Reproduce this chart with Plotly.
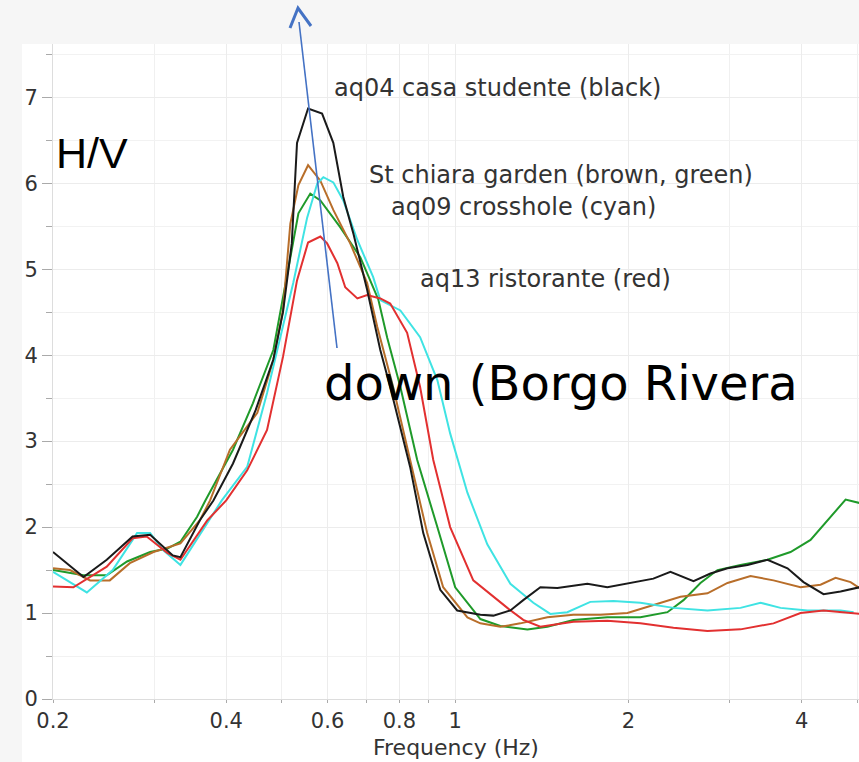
import plotly.graph_objects as go

# ---- data (frequency in Hz, H/V ratio) ----
black_f = [0.200, 0.226, 0.248, 0.275, 0.295, 0.311, 0.323, 0.333, 0.360, 0.380, 0.411, 0.450, 0.483, 0.502,
           0.520, 0.531, 0.555, 0.587, 0.614, 0.639, 0.665, 0.703, 0.741, 0.771, 0.835, 0.880, 0.942, 1.008,
           1.106, 1.165, 1.247, 1.313, 1.406, 1.505, 1.697, 1.838, 2.040, 2.210, 2.366, 2.595, 2.777, 2.973,
           3.221, 3.489, 3.780, 4.030, 4.366, 4.674, 5.044]
black_v = [1.71, 1.42, 1.62, 1.89, 1.91, 1.77, 1.67, 1.65, 2.08, 2.31, 2.74, 3.36, 3.95, 4.50,
           5.30, 6.47, 6.87, 6.81, 6.47, 5.84, 5.42, 4.76, 4.06, 3.63, 2.70, 1.93, 1.27, 1.03,
           0.98, 0.97, 1.03, 1.15, 1.30, 1.29, 1.34, 1.30, 1.36, 1.40, 1.48, 1.37, 1.46, 1.52,
           1.56, 1.62, 1.52, 1.36, 1.22, 1.25, 1.30]

brown_f = [0.200, 0.214, 0.232, 0.251, 0.272, 0.299, 0.333, 0.360, 0.375, 0.406, 0.453, 0.483, 0.502, 0.517,
           0.534, 0.555, 0.583, 0.614, 0.657, 0.703, 0.732, 0.780, 0.835, 0.894, 0.953, 1.050, 1.106, 1.198,
           1.298, 1.446, 1.605, 1.788, 1.992, 2.210, 2.463, 2.744, 2.973, 3.260, 3.574, 3.982, 4.314, 4.582,
           4.865, 5.044]
brown_v = [1.52, 1.50, 1.38, 1.38, 1.58, 1.71, 1.81, 2.08, 2.31, 2.90, 3.33, 3.94, 4.52, 5.53,
           5.98, 6.21, 6.03, 5.69, 5.30, 4.84, 4.33, 3.63, 2.78, 1.93, 1.30, 0.95, 0.88, 0.84,
           0.88, 0.95, 0.98, 0.98, 1.00, 1.09, 1.19, 1.23, 1.35, 1.43, 1.38, 1.30, 1.33, 1.41,
           1.36, 1.29]

green_f = [0.200, 0.217, 0.226, 0.248, 0.269, 0.295, 0.316, 0.333, 0.356, 0.368, 0.411, 0.445, 0.483, 0.511,
           0.534, 0.560, 0.583, 0.631, 0.684, 0.735, 0.762, 0.803, 0.859, 0.931, 1.000, 1.106, 1.198, 1.335,
           1.446, 1.605, 1.838, 2.098, 2.338, 2.493, 2.668, 2.856, 3.132, 3.489, 3.826, 4.145, 4.437, 4.769,
           5.044]
green_v = [1.50, 1.46, 1.44, 1.44, 1.60, 1.71, 1.75, 1.83, 2.12, 2.31, 2.90, 3.44, 4.06, 4.95,
           5.65, 5.88, 5.80, 5.49, 5.14, 4.65, 4.20, 3.63, 2.78, 2.00, 1.30, 0.93, 0.85, 0.81,
           0.84, 0.92, 0.95, 0.95, 1.01, 1.15, 1.35, 1.50, 1.56, 1.62, 1.71, 1.85, 2.08, 2.32,
           2.28]

cyan_f = [0.200, 0.229, 0.254, 0.280, 0.295, 0.311, 0.333, 0.371, 0.393, 0.435, 0.471, 0.523, 0.553, 0.576,
          0.590, 0.614, 0.639, 0.676, 0.720, 0.741, 0.803, 0.869, 0.931, 0.980, 1.050, 1.137, 1.247, 1.367,
          1.463, 1.566, 1.717, 1.883, 2.098, 2.395, 2.744, 3.132, 3.393, 3.676, 4.095, 4.674, 4.924]
cyan_v = [1.48, 1.24, 1.50, 1.93, 1.93, 1.73, 1.56, 2.04, 2.31, 2.70, 3.56, 4.84, 5.60, 6.00,
          6.07, 6.01, 5.80, 5.34, 4.91, 4.64, 4.52, 4.21, 3.71, 3.09, 2.40, 1.80, 1.34, 1.12,
          0.99, 1.01, 1.13, 1.14, 1.12, 1.06, 1.03, 1.06, 1.12, 1.06, 1.03, 1.03, 1.01]

red_f = [0.200, 0.217, 0.248, 0.275, 0.291, 0.316, 0.333, 0.371, 0.400, 0.435, 0.471, 0.502, 0.531, 0.555,
         0.583, 0.599, 0.624, 0.644, 0.676, 0.703, 0.741, 0.771, 0.825, 0.869, 0.916, 0.980, 1.075, 1.184,
         1.232, 1.313, 1.406, 1.605, 1.838, 2.098, 2.395, 2.744, 3.132, 3.574, 3.982, 4.366, 4.807, 5.044]
red_v = [1.31, 1.30, 1.54, 1.87, 1.89, 1.70, 1.62, 2.08, 2.31, 2.66, 3.13, 3.98, 4.87, 5.31,
         5.38, 5.30, 5.07, 4.79, 4.66, 4.70, 4.66, 4.60, 4.26, 3.63, 2.78, 2.00, 1.38, 1.15,
         1.06, 0.92, 0.84, 0.90, 0.91, 0.88, 0.83, 0.79, 0.81, 0.88, 1.00, 1.03, 1.00, 0.99]

x_tickvals = [0.2, 0.4, 0.6, 0.8, 1, 2, 4]
x_ticktext = ["0.2", "0.4", "0.6", "0.8", "1", "2", "4"]
x_minorvals = [0.3, 0.5, 0.7, 0.9, 3, 5]
y_tickvals = [0, 1, 2, 3, 4, 5, 6, 7]

labels = ["aq04 casa studente (black)", "St chiara garden (brown, green)",
          "aq09 crosshole (cyan)", "aq13 ristorante (red)"]

series = [
    (green_f, green_v, "#1f9a2a"),
    (brown_f, brown_v, "#b86e2a"),
    (cyan_f, cyan_v, "#3fe3e3"),
    (red_f, red_v, "#e23030"),
    (black_f, black_v, "#1a1a1a"),
]

fig = go.Figure()
for f, v, c in series:
    fig.add_trace(go.Scatter(x=f, y=v, mode="lines", line=dict(color=c, width=2),
                             showlegend=False, hoverinfo="skip"))

W, H = 859, 762
L, R, T, B = 53, 0, 44, 63
pw, ph = W - L - R, H - T - B


def px(x):
    return (x - L) / pw


def py(y):
    return (H - B - y) / ph


txt_font = dict(family="DejaVu Sans", size=24, color="#333333")
anns = [
    dict(text=labels[0], x=px(497), y=py(88)),
    dict(text=labels[1], x=px(561), y=py(175)),
    dict(text=labels[2], x=px(523), y=py(207)),
    dict(text=labels[3], x=px(545), y=py(279)),
]
annotations = []
for a in anns:
    annotations.append(dict(text=a["text"], x=a["x"], y=a["y"], xref="paper", yref="paper",
                            xanchor="center", yanchor="middle", showarrow=False, font=txt_font))
annotations.append(dict(text="Frequency (Hz)", x=0.5, y=py(747), xref="paper", yref="paper",
                        xanchor="center", yanchor="middle", showarrow=False,
                        font=dict(family="DejaVu Sans", size=22, color="#333333")))
annotations.append(dict(text="H/V", x=px(92), y=py(153), xref="paper", yref="paper",
                        xanchor="center", yanchor="middle", showarrow=False,
                        font=dict(family="Liberation Sans", size=43, color="#000000")))
annotations.append(dict(text="down (Borgo Rivera", x=px(561), y=py(383), xref="paper", yref="paper",
                        xanchor="center", yanchor="middle", showarrow=False,
                        font=dict(family="DejaVu Sans", size=48, color="#000000")))

shapes = [
    dict(type="rect", xref="paper", yref="paper", x0=px(22), x1=1.0, y0=py(H), y1=1.0,
         fillcolor="#ffffff", line=dict(width=0), layer="below"),
    dict(type="line", xref="paper", yref="paper", x0=px(337), y0=py(348), x1=px(299), y1=py(22),
         line=dict(color="#4472c4", width=1.6)),
    dict(type="path", xref="paper", yref="paper",
         path=f"M {px(290)} {py(28)} L {px(298)} {py(8)} L {px(311)} {py(26)}",
         line=dict(color="#4472c4", width=3)),
]

fig.update_layout(
    width=W, height=H,
    margin=dict(l=L, r=R, t=T, b=B, pad=0),
    paper_bgcolor="#f6f6f6",
    plot_bgcolor="rgba(0,0,0,0)",
    annotations=annotations,
    shapes=shapes,
    xaxis=dict(type="log", range=[-0.69897, 0.70174],
               tickmode="array", tickvals=x_tickvals, ticktext=x_ticktext,
               ticks="outside", ticklen=3, tickcolor="#aaaaaa",
               showgrid=True, gridcolor="#ececec", gridwidth=1,
               showline=True, linecolor="#dddddd", zeroline=False,
               tickfont=dict(family="DejaVu Sans", size=21, color="#333333"),
               minor=dict(tickmode="array", tickvals=x_minorvals, ticks="outside", ticklen=3,
                          tickcolor="#aaaaaa", showgrid=True, gridcolor="#f0f0f0")),
    yaxis=dict(range=[0, 7.62], tickmode="array", tickvals=y_tickvals,
               ticks="outside", ticklen=10, tickcolor="#aaaaaa",
               showgrid=True, gridcolor="#ececec", gridwidth=1,
               showline=True, linecolor="#dddddd", zeroline=False,
               tickfont=dict(family="DejaVu Sans", size=21, color="#333333"),
               minor=dict(dtick=0.5, ticks="outside", ticklen=6, tickcolor="#aaaaaa",
                          showgrid=True, gridcolor="#f2f2f2")),
)

fig.write_html("out.html")
